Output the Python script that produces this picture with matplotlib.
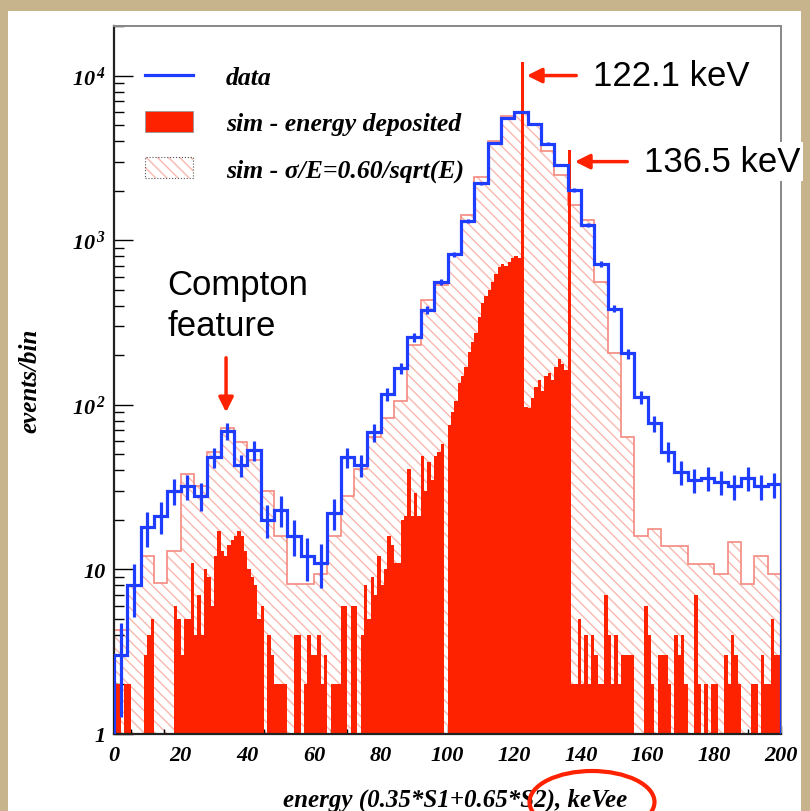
import numpy as np
import matplotlib
matplotlib.use('Agg')
import matplotlib.pyplot as plt
from matplotlib.patches import Patch, Rectangle, Ellipse
from matplotlib.lines import Line2D
from matplotlib.legend_handler import HandlerTuple
from matplotlib.ticker import FixedLocator, FixedFormatter, MultipleLocator, NullFormatter

plt.rcParams['mathtext.fontset'] = 'custom'
plt.rcParams['mathtext.rm'] = 'Liberation Serif:bold:italic'
plt.rcParams['mathtext.it'] = 'Liberation Serif:bold:italic'
plt.rcParams['hatch.linewidth'] = 1.0

# bin edges: data and smeared sim in 4 keV bins, deposited energy in 1 keV bins
coarse_edges = np.arange(0, 201, 4)
fine_edges = np.arange(0, 201, 1)

data_counts = [3, 8, 18, 21, 30, 32, 28, 48, 69, 43,
               53, 20, 23, 16, 12, 11, 22, 48, 43, 68,
               116, 167, 258, 376, 558, 823, 1313, 2218, 3880, 5510,
               5970, 5090, 3860, 2866, 2018, 1236, 716, 384, 205, 111,
               77, 52, 39, 35, 36, 34, 32, 36, 32, 33]

sim_smeared = [4.3, 7.9, 12, 8.3, 13, 38, 32, 52, 72, 59,
               46, 30, 16, 8.2, 8.2, 9.4, 16, 28, 41, 64,
               83, 106, 230, 432, 533, 811, 1422, 2410, 4030, 5640,
               5970, 5000, 3500, 2490, 1640, 1325, 558, 205, 64, 16,
               17.6, 13.9, 13.9, 10.8, 10.8, 9.4, 14.6, 8.2, 12.1, 9.4]

sim_deposited = [2, 2, 1, 2, 2, 0, 0, 0, 0, 3,
                 4, 5, 0, 0, 0, 0, 0, 0, 6, 5,
                 3, 5, 5, 11, 4, 7, 4, 10, 9, 6,
                 12, 17, 13, 12, 14, 15, 16, 17, 16, 13,
                 10, 9, 8, 5, 6, 0, 4, 3, 2, 2,
                 2, 2, 0, 0, 4, 4, 0, 2, 4, 3,
                 3, 4, 2, 3, 0, 2, 2, 2, 6, 6,
                 0, 6, 6, 0, 4, 8, 5, 9, 7, 12,
                 8, 10, 16, 14, 11, 11, 20, 21, 41, 21,
                 29, 21, 49, 30, 45, 35, 49, 52, 58, 0,
                 75, 90, 106, 135, 150, 169, 209, 240, 272, 343,
                 414, 460, 497, 558, 620, 690, 720, 700, 740, 780,
                 800, 780, 12100, 97, 95, 110, 128, 141, 122, 150,
                 155, 141, 169, 191, 178, 162, 3530, 2, 2, 5,
                 2, 4, 2, 4, 3, 2, 2, 7, 4, 2,
                 4, 2, 3, 3, 3, 3, 0, 1, 0, 6,
                 4, 2, 0, 3, 3, 3, 2, 0, 4, 3,
                 4, 2, 0, 1, 7, 2, 0, 2, 0, 2,
                 2, 0, 0, 3, 2, 4, 3, 2, 0, 0,
                 0, 2, 2, 0, 3, 2, 2, 5, 3, 3]

x_ticks = [0, 20, 40, 60, 80, 100, 120, 140, 160, 180, 200]
y_ticks = [1, 10, 100, 1000, 10000]
y_tick_labels = ['1', '10', r'$10^{\,2}$', r'$10^{\,3}$', r'$10^{\,4}$']

RED = '#ff2200'
BLUE = '#1f3dff'
PINK_HATCH = '#f7b8ae'
PINK_LINE = '#f48a80'
serif = dict(family='Liberation Serif', weight='bold', style='italic')

fig = plt.figure(figsize=(8.1, 8.12), dpi=100, facecolor='#c7b38c')
fig.add_artist(Rectangle((8 / 810, 0), 793 / 810, 800 / 812,
                         transform=fig.transFigure, facecolor='white',
                         edgecolor='none', zorder=0))

ax = fig.add_axes([114 / 810, 1 - 735 / 812, 667 / 810, 708 / 812])
ax.set_yscale('log')

# smeared simulation: hatched fill plus outline
ax.stairs(sim_smeared, coarse_edges, baseline=0.1, fill=True,
          facecolor='none', edgecolor=PINK_HATCH, hatch='\\\\\\',
          linewidth=0, zorder=1)
ax.stairs(sim_smeared, coarse_edges, baseline=0.1, color=PINK_LINE,
          linewidth=1.2, zorder=1.5)

# deposited energy, solid red
ax.stairs(sim_deposited, fine_edges, baseline=0.1, fill=True,
          color=RED, linewidth=0, zorder=2)

# data with poisson error bars
centers = 0.5 * (coarse_edges[:-1] + coarse_edges[1:])
counts = np.array(data_counts, dtype=float)
ax.stairs(counts, coarse_edges, baseline=0.1, color=BLUE, linewidth=2.3, zorder=3)
ax.errorbar(centers, counts, yerr=np.sqrt(counts), fmt='none',
            ecolor=BLUE, elinewidth=2.3, capsize=0, zorder=3)

ax.set_xlim(0, 200)
ax.set_ylim(1, 2e4)

ax.xaxis.set_major_locator(FixedLocator(x_ticks))
ax.xaxis.set_minor_locator(MultipleLocator(5))
ax.yaxis.set_major_locator(FixedLocator(y_ticks))
ax.yaxis.set_major_formatter(FixedFormatter(y_tick_labels))
ax.yaxis.set_minor_locator(FixedLocator(
    [m * 10 ** e for e in range(0, 5) for m in range(2, 10)]))
ax.yaxis.set_minor_formatter(NullFormatter())

ax.tick_params(axis='x', which='major', direction='in', length=6, width=1,
               pad=8, labelsize=16, top=False)
ax.tick_params(axis='x', which='minor', direction='in', length=3.5, width=1,
               top=False)
ax.tick_params(axis='y', which='major', direction='in', length=14, width=1,
               pad=6, labelsize=16, right=False)
ax.tick_params(axis='y', which='minor', direction='in', length=7, width=1,
               right=False)
for lab in ax.get_xticklabels() + ax.get_yticklabels():
    lab.set_fontfamily('Liberation Serif')
    lab.set_fontweight('bold')
    lab.set_fontstyle('italic')

for side in ['left', 'bottom']:
    ax.spines[side].set_linewidth(1.6)
    ax.spines[side].set_color('#222222')
for side in ['top', 'right']:
    ax.spines[side].set_linewidth(1.4)
    ax.spines[side].set_color('#888888')

ax.text(-0.126, 0.5, 'events/bin', rotation=90, ha='center', va='center',
        transform=ax.transAxes, fontsize=18, **serif)
ax.text(0.511, -0.092, 'energy (0.35*S1+0.65*S2), keVee', ha='center',
        va='center', transform=ax.transAxes, fontsize=18, **serif)

# legend
handles = [
    Line2D([], [], color=BLUE, linewidth=2.3),
    Patch(facecolor=RED, edgecolor='#999999', linewidth=0.6),
    (Patch(facecolor='white', edgecolor=PINK_HATCH, hatch='\\\\\\', linewidth=0),
     Patch(facecolor='none', edgecolor='#555555', linestyle=':', linewidth=0.8)),
]
labels = ['data', 'sim - energy deposited', r'sim - σ/E=0.60/sqrt(E)']
ax.legend(handles, labels, loc='upper left',
          bbox_to_anchor=((145 - 114) / 667, (735 - 66) / 708),
          frameon=False, borderpad=0, borderaxespad=0,
          handlelength=1.87, handleheight=0.86, handletextpad=1.29,
          labelspacing=0.85, prop=dict(size=18.5, **serif),
          handler_map={tuple: HandlerTuple(ndivide=1, pad=0)})

# line annotations
arrow = dict(arrowstyle='-|>', color=RED, lw=2.5, mutation_scale=22,
             shrinkA=10, shrinkB=0)
ax.annotate('122.1 keV', xy=(123.8, 1.0e4), xytext=(143.6, 1.0e4),
            ha='left', va='center', fontsize=25, family='Liberation Sans',
            arrowprops=arrow, zorder=5)
ax.annotate('136.5 keV', xy=(138.2, 3000), xytext=(158.9, 3000),
            ha='left', va='center', fontsize=25, family='Liberation Sans',
            arrowprops=arrow, annotation_clip=False, zorder=5,
            bbox=dict(facecolor='white', edgecolor='none', pad=2))
ax.text(15.9, 405, 'Compton\nfeature', ha='left', va='center', fontsize=25,
        family='Liberation Sans', linespacing=1.3, zorder=5)
ax.annotate('', xy=(33.6, 90), xytext=(33.6, 193),
            arrowprops=dict(arrowstyle='-|>', color=RED, lw=2.5,
                            mutation_scale=22, shrinkA=0, shrinkB=0))

fig.add_artist(Ellipse((592 / 810, 1 - 803 / 812), 125 / 810, 62 / 812,
                       transform=fig.transFigure, facecolor='none',
                       edgecolor=RED, linewidth=3, zorder=6))

fig.savefig('out.png', dpi=100, facecolor=fig.get_facecolor())
